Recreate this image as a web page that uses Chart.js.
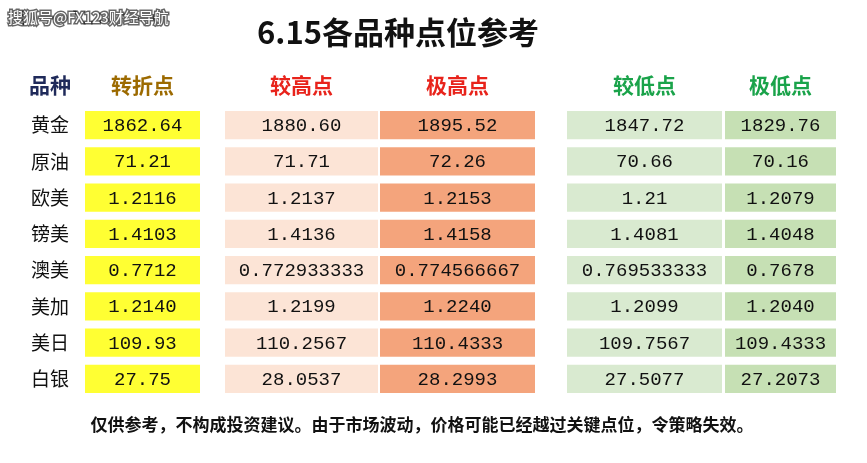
<!DOCTYPE html>
<html><head><meta charset="utf-8">
<script src="https://cdn.jsdelivr.net/npm/chart.js@4/dist/chart.umd.min.js"></script>
<style>body{margin:0;background:#fff}#wrap{width:867px;height:463px}</style>
</head><body><div id="wrap"><canvas id="c"></canvas></div>
<script>
const title = '6.15各品种点位参考';
const footer = '仅供参考，不构成投资建议。由于市场波动，价格可能已经越过关键点位，令策略失效。';
const rows = ['黄金','原油','欧美','镑美','澳美','美加','美日','白银'];
const headers = ['转折点','较高点','极高点','较低点','极低点'];
const pivot = ['1862.64','71.21','1.2116','1.4103','0.7712','1.2140','109.93','27.75'];
const high = ['1880.60','71.71','1.2137','1.4136','0.772933333','1.2199','110.2567','28.0537'];
const highest = ['1895.52','72.26','1.2153','1.4158','0.774566667','1.2240','110.4333','28.2993'];
const low = ['1847.72','70.66','1.21','1.4081','0.769533333','1.2099','109.7567','27.5077'];
const lowest = ['1829.76','70.16','1.2079','1.4048','0.7678','1.2040','109.4333','27.2073'];

// column layout on the x scale (0..867)
const cols = [[85,200],[225,378],[380,535],[567,722],[725,836]];
const fills = ['#ffff33','#fce4d6','#f4a47c','#d9ead0','#c6e0b4'];
const headColors = ['#9c6a00','#e8231b','#e8231b','#1aa34a','#1aa34a'];
const values = [pivot, high, highest, low, lowest];

const tablePlugin = {
  id: 'table',
  afterDatasetsDraw(chart) {
    const ctx = chart.ctx, y = chart.scales.y;
    ctx.save();
    ctx.textAlign = 'center'; ctx.textBaseline = 'middle';
    chart.data.datasets.forEach((ds, i) => {
      chart.getDatasetMeta(i).data.forEach((el, j) => {
        ctx.fillStyle = '#111';
        ctx.font = '19px "Liberation Mono", monospace';
        ctx.fillText(values[i][j], (el.x + el.base) / 2, el.y + 1);
      });
      ctx.fillStyle = headColors[i];
      ctx.font = 'bold 21px "Noto Sans CJK SC"';
      ctx.fillText(headers[i], (cols[i][0] + cols[i][1]) / 2, 85);
    });
    ctx.fillStyle = '#1f2a5a';
    ctx.font = 'bold 21px "Noto Sans CJK SC"';
    ctx.fillText('品种', 50, 85);
    ctx.fillStyle = '#111';
    ctx.font = '19px "Noto Sans CJK SC"';
    rows.forEach((r, j) => ctx.fillText(r, 50, y.getPixelForValue(j)));
    ctx.font = 'bold 31px "Noto Sans CJK SC"';
    ctx.fillText(title, 398, 32);
    ctx.font = 'bold 17px "Noto Sans CJK SC"';
    ctx.fillText(footer, 422, 425);
    ctx.textAlign = 'left';
    ctx.font = '15px "Noto Sans CJK SC"';
    ctx.lineWidth = 3; ctx.strokeStyle = 'rgba(0,0,0,0.6)';
    ctx.strokeText('搜狐号@FX123财经导航', 8, 17);
    ctx.fillStyle = '#fff';
    ctx.fillText('搜狐号@FX123财经导航', 8, 17);
    ctx.restore();
  }
};

new Chart(document.getElementById('c'), {
  type: 'bar',
  data: {
    labels: rows,
    datasets: values.map((v, i) => ({
      data: v.map(() => cols[i]),
      backgroundColor: fills[i],
      barPercentage: 0.78,
      categoryPercentage: 1
    }))
  },
  options: {
    indexAxis: 'y',
    responsive: true, maintainAspectRatio: false, animation: false,
    layout: { padding: { top: 107, bottom: 66, left: 0, right: 0 } },
    datasets: { bar: { grouped: false } },
    plugins: { legend: { display: false }, tooltip: { enabled: false } },
    scales: {
      x: { type: 'linear', min: 0, max: 867, display: false },
      y: { display: false }
    }
  },
  plugins: [tablePlugin]
});
</script></body></html>
